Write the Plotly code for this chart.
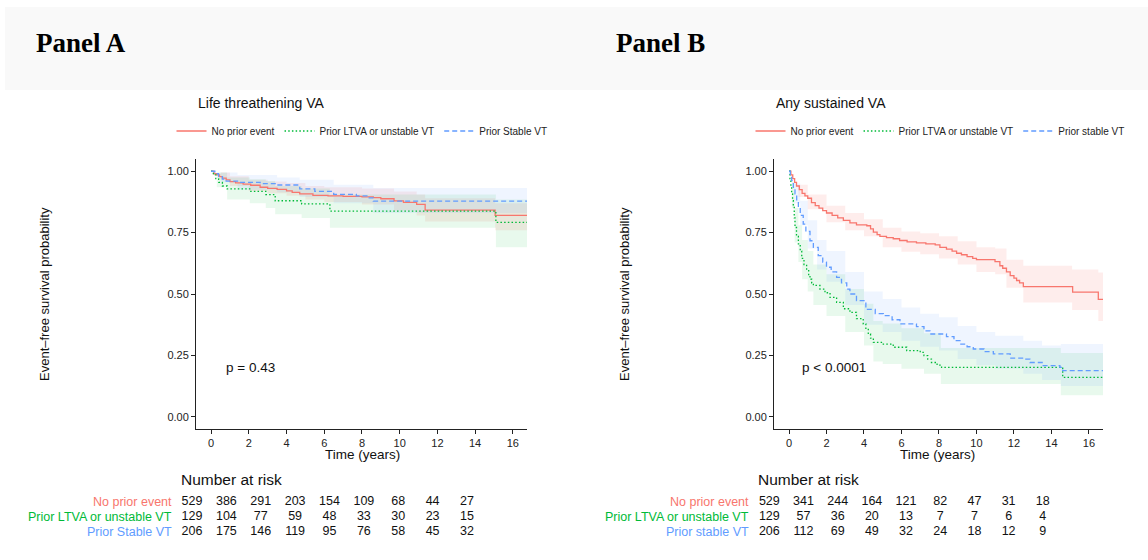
import plotly.graph_objects as go

W, H = 1148, 560

# ---------------- DATA ----------------
# Panel A : Life threatening VA
a_red_t = [0, 0.15, 0.3, 0.45, 0.6, 0.8, 1.0, 1.3, 1.7, 2.1, 2.6, 3.0, 3.5, 4.0, 4.3, 4.7, 5.4, 6.2, 7.0, 8.0, 8.6, 9.0, 9.7, 10.2, 10.9, 11.35, 15.06, 16.75]
a_red_s = [1.0, 0.99, 0.985, 0.978, 0.972, 0.965, 0.958, 0.953, 0.948, 0.943, 0.935, 0.93, 0.926, 0.92, 0.914, 0.908, 0.902, 0.9, 0.898, 0.896, 0.893, 0.888, 0.879, 0.873, 0.865, 0.842, 0.82, 0.82]
a_grn_t = [0, 0.12, 0.25, 0.4, 0.6, 0.85, 2.05, 2.9, 3.4, 4.8, 6.3, 15.1, 16.75]
a_grn_s = [1.0, 0.985, 0.97, 0.955, 0.94, 0.928, 0.918, 0.905, 0.88, 0.867, 0.838, 0.792, 0.792]
a_blu_t = [0, 0.2, 0.4, 0.6, 0.8, 1.4, 2.6, 3.5, 4.7, 5.5, 6.5, 7.7, 8.3, 8.6, 16.75]
a_blu_s = [1.0, 0.99, 0.978, 0.968, 0.96, 0.955, 0.95, 0.944, 0.928, 0.918, 0.906, 0.9, 0.892, 0.878, 0.878]

a_red_ci_t = [0, 0.5, 1, 2, 3, 4, 5, 6, 8, 9.7, 10.9, 11.35, 15.06, 16.75]
a_red_ci_lo = [1.0, 0.965, 0.94, 0.92, 0.91, 0.9, 0.885, 0.875, 0.865, 0.84, 0.82, 0.795, 0.76, 0.76]
a_red_ci_hi = [1.0, 0.995, 0.98, 0.965, 0.958, 0.952, 0.94, 0.935, 0.93, 0.918, 0.905, 0.89, 0.87, 0.87]
a_grn_ci_t = [0, 0.3, 0.85, 2.05, 2.9, 3.4, 4.8, 6.3, 15.1, 16.75]
a_grn_ci_lo = [1.0, 0.935, 0.885, 0.87, 0.85, 0.825, 0.81, 0.77, 0.69, 0.69]
a_grn_ci_hi = [1.0, 0.995, 0.975, 0.968, 0.96, 0.94, 0.93, 0.905, 0.885, 0.885]
a_blu_ci_t = [0, 0.5, 1.4, 3.5, 4.7, 6.5, 8.6, 16.75]
a_blu_ci_lo = [1.0, 0.955, 0.925, 0.915, 0.895, 0.87, 0.83, 0.83]
a_blu_ci_hi = [1.0, 0.995, 0.985, 0.975, 0.965, 0.945, 0.932, 0.932]

# Panel B : Any sustained VA
b_red_t = [0, 0.1, 0.2, 0.3, 0.4, 0.55, 0.7, 0.85, 1.0, 1.2, 1.4, 1.6, 1.8, 2.0, 2.3, 2.6, 2.9, 3.25, 3.6, 4.15, 4.35, 4.5, 4.7, 4.85, 5.2, 5.56, 5.9, 6.3, 6.8, 7.3, 7.8, 8.05, 8.4, 8.7, 8.94, 9.2, 9.5, 9.8, 10.0, 10.99, 11.25, 11.4, 11.6, 11.8, 12.0, 12.14, 12.3, 12.5, 15.13, 16.5, 16.75]
b_red_s = [1.0, 0.985, 0.97, 0.955, 0.94, 0.925, 0.91, 0.9, 0.89, 0.872, 0.86, 0.85, 0.84, 0.83, 0.82, 0.81, 0.8, 0.79, 0.782, 0.778, 0.765, 0.752, 0.742, 0.735, 0.73, 0.725, 0.718, 0.712, 0.708, 0.704, 0.7, 0.69, 0.683, 0.675, 0.666, 0.66, 0.652, 0.645, 0.64, 0.632, 0.615, 0.605, 0.59, 0.575, 0.565, 0.555, 0.545, 0.53, 0.508, 0.478, 0.478]
b_grn_t = [0, 0.05, 0.1, 0.14, 0.19, 0.23, 0.28, 0.32, 0.4, 0.5, 0.6, 0.68, 0.8, 0.94, 1.05, 1.12, 1.21, 1.3, 1.65, 1.92, 2.19, 2.54, 2.9, 3.25, 3.6, 3.96, 4.1, 4.23, 4.35, 4.5, 5.03, 5.56, 6.28, 7.0, 7.2, 7.4, 7.6, 7.9, 8.14, 14.6, 16.75]
b_grn_s = [1.0, 0.97, 0.94, 0.908, 0.88, 0.853, 0.81, 0.771, 0.735, 0.704, 0.675, 0.645, 0.62, 0.595, 0.575, 0.56, 0.545, 0.535, 0.52, 0.505, 0.486, 0.466, 0.44, 0.425, 0.4, 0.378, 0.36, 0.337, 0.32, 0.303, 0.296, 0.283, 0.269, 0.262, 0.249, 0.235, 0.221, 0.21, 0.201, 0.16, 0.16]
b_blu_t = [0, 0.07, 0.14, 0.23, 0.32, 0.41, 0.5, 0.6, 0.76, 0.9, 1.12, 1.3, 1.56, 1.8, 2.0, 2.25, 2.54, 2.8, 3.08, 3.25, 3.6, 4.1, 4.6, 5.03, 5.5, 5.92, 6.8, 7.2, 7.52, 8.4, 8.8, 9.12, 9.5, 9.83, 10.4, 10.9, 11.8, 12.5, 12.85, 13.56, 14.45, 14.6, 16.75]
b_blu_s = [1.0, 0.98, 0.962, 0.935, 0.908, 0.88, 0.853, 0.82, 0.785, 0.755, 0.717, 0.69, 0.656, 0.63, 0.609, 0.59, 0.568, 0.545, 0.52, 0.5, 0.473, 0.437, 0.42, 0.412, 0.395, 0.378, 0.367, 0.35, 0.337, 0.326, 0.31, 0.296, 0.285, 0.276, 0.265, 0.256, 0.239, 0.235, 0.221, 0.208, 0.201, 0.188, 0.188]

b_red_ci_t = [0, 0.5, 1, 2, 3, 4, 5, 6, 7, 8, 9, 10, 11, 11.6, 12.5, 15.1, 16.5, 16.75]
b_red_ci_lo = [1.0, 0.895, 0.845, 0.792, 0.76, 0.735, 0.69, 0.672, 0.662, 0.645, 0.62, 0.59, 0.58, 0.525, 0.465, 0.435, 0.39, 0.39]
b_red_ci_hi = [1.0, 0.945, 0.905, 0.86, 0.83, 0.805, 0.77, 0.755, 0.748, 0.735, 0.715, 0.69, 0.685, 0.64, 0.615, 0.6, 0.588, 0.588]
b_grn_ci_t = [0, 0.15, 0.3, 0.5, 0.7, 1, 1.3, 2, 3, 4, 4.5, 5, 6, 7.2, 8.1, 14.5, 16.75]
b_grn_ci_lo = [1.0, 0.85, 0.71, 0.63, 0.56, 0.51, 0.455, 0.41, 0.345, 0.29, 0.225, 0.215, 0.195, 0.175, 0.133, 0.088, 0.088]
b_grn_ci_hi = [1.0, 0.955, 0.85, 0.78, 0.72, 0.675, 0.62, 0.58, 0.52, 0.46, 0.39, 0.38, 0.36, 0.34, 0.28, 0.26, 0.26]
b_blu_ci_t = [0, 0.3, 0.6, 1, 1.5, 2, 3, 4, 5, 6, 7, 8, 9, 10, 11, 12.5, 13.5, 14.5, 16.75]
b_blu_ci_lo = [1.0, 0.87, 0.78, 0.685, 0.6, 0.55, 0.455, 0.375, 0.345, 0.31, 0.285, 0.27, 0.235, 0.21, 0.195, 0.175, 0.15, 0.125, 0.125]
b_blu_ci_hi = [1.0, 0.95, 0.88, 0.8, 0.72, 0.675, 0.59, 0.51, 0.48, 0.445, 0.42, 0.405, 0.37, 0.345, 0.33, 0.31, 0.29, 0.296, 0.296]

# Number at risk
risk_times = [0, 2, 4, 6, 8, 10, 12, 14, 16]
a_risk_red = [529, 386, 291, 203, 154, 109, 68, 44, 27]
a_risk_grn = [129, 104, 77, 59, 48, 33, 30, 23, 15]
a_risk_blu = [206, 175, 146, 119, 95, 76, 58, 45, 32]
b_risk_red = [529, 341, 244, 164, 121, 82, 47, 31, 18]
b_risk_grn = [129, 57, 36, 20, 13, 7, 7, 6, 4]
b_risk_blu = [206, 112, 69, 49, 32, 24, 18, 12, 9]

a_labels = ["No prior event", "Prior LTVA or unstable VT", "Prior Stable VT"]
b_labels = ["No prior event", "Prior LTVA or unstable VT", "Prior stable VT"]
y_ticks = [0, 0.25, 0.5, 0.75, 1.0]
x_ticks = [0, 2, 4, 6, 8, 10, 12, 14, 16]

# ---------------- STYLE ----------------
RED, GRN, BLU = "#F8766D", "#00BA38", "#619CFF"
RED_F, GRN_F, BLU_F = "rgba(248,118,109,0.13)", "rgba(0,186,56,0.09)", "rgba(97,156,255,0.10)"
FONT = "Liberation Sans, Arial, Helvetica, sans-serif"
DOT = "1.5px,2.2px"
DASH = "5px,3px"

fig = go.Figure()

def px_x(p):
    return p / W

def px_y(p):
    return 1 - p / H

def ribbon(t, lo, hi, color, xa, ya):
    fig.add_trace(go.Scatter(x=t, y=lo, mode="lines", line=dict(width=0, shape="hv"),
                             showlegend=False, hoverinfo="skip", xaxis=xa, yaxis=ya))
    fig.add_trace(go.Scatter(x=t, y=hi, mode="lines", line=dict(width=0, shape="hv"),
                             fill="tonexty", fillcolor=color, showlegend=False,
                             hoverinfo="skip", xaxis=xa, yaxis=ya))

def curve(t, s, color, dash, name, xa, ya, legend):
    fig.add_trace(go.Scatter(x=t, y=s, mode="lines", name=name,
                             line=dict(color=color, width=1.3, dash=dash, shape="hv"),
                             xaxis=xa, yaxis=ya, legend=legend))

# Panel A
ribbon(a_red_ci_t, a_red_ci_lo, a_red_ci_hi, RED_F, "x", "y")
ribbon(a_grn_ci_t, a_grn_ci_lo, a_grn_ci_hi, GRN_F, "x", "y")
ribbon(a_blu_ci_t, a_blu_ci_lo, a_blu_ci_hi, BLU_F, "x", "y")
curve(a_red_t, a_red_s, RED, "solid", a_labels[0], "x", "y", "legend")
curve(a_grn_t, a_grn_s, GRN, DOT, a_labels[1], "x", "y", "legend")
curve(a_blu_t, a_blu_s, BLU, DASH, a_labels[2], "x", "y", "legend")

# Panel B
ribbon(b_red_ci_t, b_red_ci_lo, b_red_ci_hi, RED_F, "x2", "y2")
ribbon(b_grn_ci_t, b_grn_ci_lo, b_grn_ci_hi, GRN_F, "x2", "y2")
ribbon(b_blu_ci_t, b_blu_ci_lo, b_blu_ci_hi, BLU_F, "x2", "y2")
curve(b_red_t, b_red_s, RED, "solid", b_labels[0], "x2", "y2", "legend2")
curve(b_grn_t, b_grn_s, GRN, DOT, b_labels[1], "x2", "y2", "legend2")
curve(b_blu_t, b_blu_s, BLU, DASH, b_labels[2], "x2", "y2", "legend2")

# Risk tables
for xa, ya, rows in [("x3", "y3", [a_risk_red, a_risk_grn, a_risk_blu]),
                     ("x4", "y4", [b_risk_red, b_risk_grn, b_risk_blu])]:
    for i, vals in enumerate(rows):
        fig.add_trace(go.Scatter(x=risk_times, y=[3 - i] * len(vals), mode="text",
                                 text=[str(v) for v in vals], textposition="middle center",
                                 textfont=dict(size=12.5, color="#111", family=FONT),
                                 showlegend=False, hoverinfo="skip", cliponaxis=False,
                                 xaxis=xa, yaxis=ya))

axis_common = dict(showgrid=False, zeroline=False, showline=True, linecolor="#222",
                   linewidth=1, ticks="outside", ticklen=4, tickcolor="#222",
                   tickfont=dict(size=11, color="#222", family=FONT))
ydom = [px_y(429), px_y(159)]
legend_common = dict(orientation="h", y=px_y(131), yanchor="middle", xanchor="center",
                     font=dict(size=10, family=FONT, color="#222"), bgcolor="rgba(0,0,0,0)",
                     itemwidth=30, tracegroupgap=0, traceorder="normal")
fig.update_layout(
    width=W, height=H, margin=dict(l=0, r=0, t=0, b=0),
    paper_bgcolor="white", plot_bgcolor="rgba(0,0,0,0)",
    font=dict(family=FONT, color="#111"),
    xaxis=dict(domain=[px_x(196), px_x(527)], range=[-0.8, 16.75], tickvals=x_ticks, anchor="y", **axis_common),
    yaxis=dict(domain=ydom, range=[-0.05, 1.05], tickvals=y_ticks,
               ticktext=[f"{v:.2f}" for v in y_ticks], anchor="x", **axis_common),
    xaxis2=dict(domain=[px_x(774), px_x(1103)], range=[-0.8, 16.75], tickvals=x_ticks, anchor="y2", **axis_common),
    yaxis2=dict(domain=ydom, range=[-0.05, 1.05], tickvals=y_ticks,
                ticktext=[f"{v:.2f}" for v in y_ticks], anchor="x2", **axis_common),
    xaxis3=dict(domain=[px_x(192), px_x(467)], range=[0, 16], visible=False, anchor="y3"),
    yaxis3=dict(domain=[px_y(539.5), px_y(494.5)], range=[0.5, 3.5], visible=False, anchor="x3"),
    xaxis4=dict(domain=[px_x(769.3), px_x(1042.8)], range=[0, 16], visible=False, anchor="y4"),
    yaxis4=dict(domain=[px_y(539.5), px_y(494.5)], range=[0.5, 3.5], visible=False, anchor="x4"),
    legend=dict(x=px_x(362), **legend_common),
    legend2=dict(x=px_x(940), **legend_common),
)

# background band behind the panel headings
fig.add_shape(type="rect", xref="paper", yref="paper", x0=px_x(5), x1=1, y0=px_y(90), y1=px_y(7),
              fillcolor="#f9f9f9", line=dict(width=0), layer="below")

ann = []
def A(**k):
    ann.append(k)

A(text="<b>Panel A</b>", x=px_x(34), y=px_y(43), xanchor="left", yanchor="middle",
  font=dict(family="Liberation Serif, Times New Roman, serif", size=27, color="#000"))
A(text="<b>Panel B</b>", x=px_x(614), y=px_y(43), xanchor="left", yanchor="middle",
  font=dict(family="Liberation Serif, Times New Roman, serif", size=27, color="#000"))
A(text="Life threathening VA", x=px_x(196), y=px_y(103), xanchor="left", yanchor="middle", font=dict(size=14))
A(text="Any sustained VA", x=px_x(774), y=px_y(103), xanchor="left", yanchor="middle", font=dict(size=14))
for xc in [44, 624]:
    A(text="Event\u2013free survival probability", x=px_x(xc), y=px_y(294), textangle=-90,
      xanchor="center", yanchor="middle", font=dict(size=13))
A(text="Time (years)", x=px_x(362), y=px_y(454), xanchor="center", yanchor="middle", font=dict(size=13.5))
A(text="Time (years)", x=px_x(938), y=px_y(454), xanchor="center", yanchor="middle", font=dict(size=13.5))
A(text="p = 0.43", x=0.68, y=0.2, xref="x", yref="y", xanchor="left", yanchor="middle", font=dict(size=13.5))
A(text="p < 0.0001", x=0.6, y=0.2, xref="x2", yref="y2", xanchor="left", yanchor="middle", font=dict(size=13.5))
A(text="Number at risk", x=px_x(179), y=px_y(479), xanchor="left", yanchor="middle", font=dict(size=15.5))
A(text="Number at risk", x=px_x(756), y=px_y(479), xanchor="left", yanchor="middle", font=dict(size=15.5))
for labels, xr, yr in [(a_labels, 174, "y3"), (b_labels, 751, "y4")]:
    for i, (lab, col) in enumerate(zip(labels, [RED, GRN, BLU])):
        A(text=lab, x=px_x(xr), y=3 - i, yref=yr, xanchor="right", yanchor="middle",
          font=dict(size=12.5, color=col))

for a in ann:
    a.setdefault("xref", "paper")
    a.setdefault("yref", "paper")
    a["showarrow"] = False
    fig.add_annotation(**a)

fig.write_html("out.html")
